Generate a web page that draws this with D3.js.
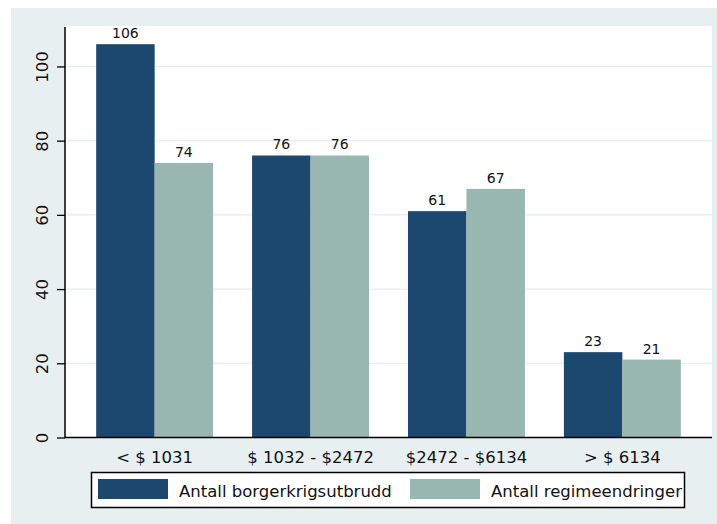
<!DOCTYPE html>
<html><head><meta charset="utf-8">
<script src="https://cdn.jsdelivr.net/npm/d3@7"></script>
<style>body{margin:0;background:#fff}svg{display:block}text{font-family:"DejaVu Sans",sans-serif;fill:#111}</style>
</head><body><svg id="c" width="717" height="524"></svg>
<script>
const categories = ["< $ 1031", "$ 1032 - $2472", "$2472 - $6134", "> $ 6134"];
const seriesNames = ["Antall borgerkrigsutbrudd", "Antall regimeendringer"];
const borgerkrig = [106, 76, 61, 23];
const regime = [74, 76, 67, 21];
const yTicks = [0, 20, 40, 60, 80, 100];
const colors = ["#1c476e", "#98b7b0"];

const svg = d3.select("#c");
svg.append("rect").attr("x", 11).attr("y", 8).attr("width", 706).attr("height", 516).attr("fill", "#e8eff1");
const L = 65, R = 712, T = 26, B = 437.5;
svg.append("rect").attr("x", L).attr("y", T).attr("width", R - L).attr("height", B - T).attr("fill", "#fff");

const y = d3.scaleLinear().domain([0, 110.9]).range([B, T]);
const x0 = d3.scaleBand().domain(categories).range([L, R]).paddingInner(0.25).paddingOuter(0.2);
const x1 = d3.scaleBand().domain([0, 1]).range([0, x0.bandwidth()]);

// gridlines
svg.append("g").selectAll("line").data(yTicks.filter(d => d > 0)).join("line")
  .attr("x1", L).attr("x2", R).attr("y1", d => y(d)).attr("y2", d => y(d))
  .attr("stroke", "#e6eef0").attr("stroke-width", 1.2);

const series = [borgerkrig, regime];
const g = svg.append("g");
categories.forEach((c, i) => {
  series.forEach((s, j) => {
    const bx = x0(c) + x1(j);
    g.append("rect").attr("x", bx).attr("y", y(s[i])).attr("width", x1.bandwidth()).attr("height", y(0) - y(s[i]))
      .attr("fill", colors[j]);
    g.append("text").attr("x", bx + x1.bandwidth() / 2).attr("y", y(s[i]) - 6)
      .attr("text-anchor", "middle").attr("font-size", 14).text(s[i]);
  });
});

// y axis
const ya = svg.append("g").attr("transform", `translate(${L},0)`)
  .call(d3.axisLeft(y).tickValues(yTicks).tickSize(8).tickPadding(0).tickFormat(d3.format("d")));
ya.select(".domain").remove();
ya.selectAll(".tick line").attr("stroke", "#000").attr("stroke-width", 1.3);
ya.selectAll(".tick text").remove();
ya.selectAll(".tick").append("text")
  .attr("transform", "translate(-17,0) rotate(-90)").attr("text-anchor", "middle")
  .attr("font-size", 16.5).attr("fill", "#111").style("font-family", '"DejaVu Sans",sans-serif').text(d => d);
svg.append("line").attr("x1", L).attr("x2", L).attr("y1", T + 1).attr("y2", B + 0.5).attr("stroke", "#000").attr("stroke-width", 1.5);

// x axis
svg.append("line").attr("x1", L).attr("x2", R).attr("y1", B).attr("y2", B).attr("stroke", "#000").attr("stroke-width", 1.5);
const xa = svg.append("g").attr("transform", `translate(0,${B})`)
  .call(d3.axisBottom(x0).tickSize(0).tickPadding(0));
xa.select(".domain").remove();
xa.selectAll(".tick text").attr("y", 25).attr("dy", null).attr("font-size", 16.5).attr("fill", "#111")
  .style("font-family", '"DejaVu Sans",sans-serif');

// legend
const lg = svg.append("g");
lg.append("rect").attr("x", 91.5).attr("y", 472.5).attr("width", 593).attr("height", 35).attr("fill", "#fff").attr("stroke", "#000").attr("stroke-width", 1.5);
const legX = [98, 410];
seriesNames.forEach((n, j) => {
  lg.append("rect").attr("x", legX[j]).attr("y", 479).attr("width", 70).attr("height", 20).attr("fill", colors[j]);
  lg.append("text").attr("x", legX[j] + 81).attr("y", 497).attr("font-size", 16.5).text(n);
});
</script></body></html>
